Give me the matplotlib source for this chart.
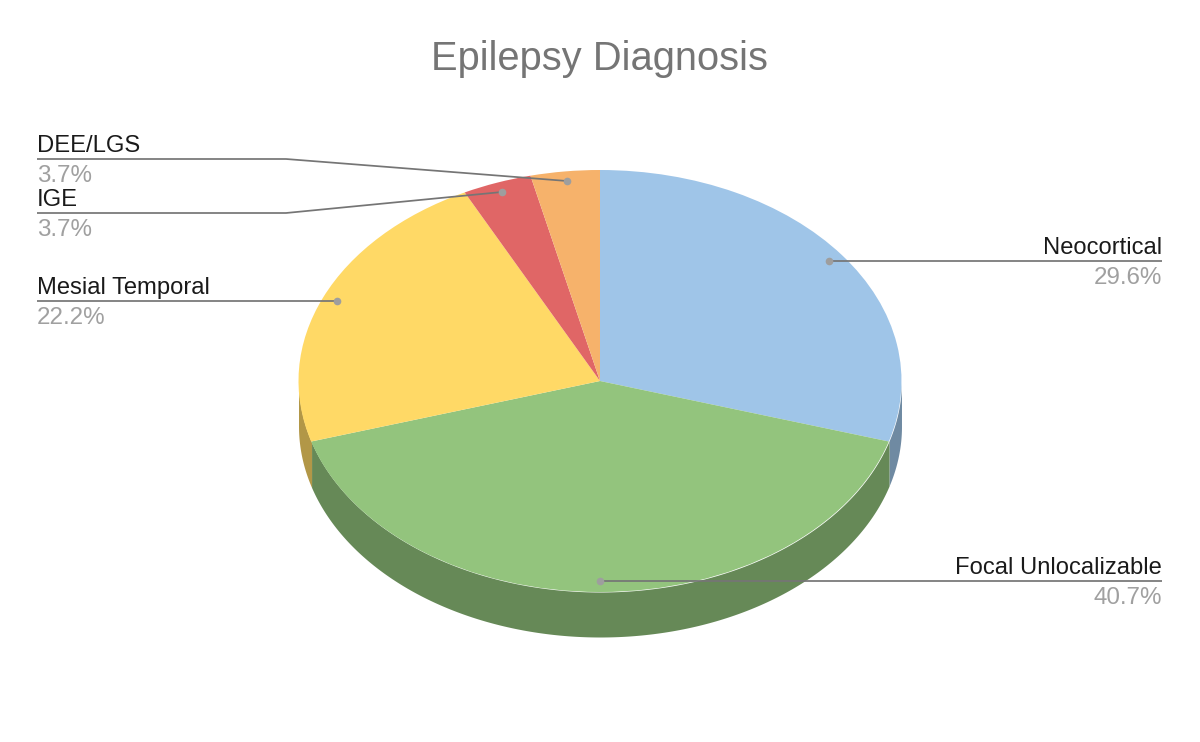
import numpy as np
import matplotlib
matplotlib.use('Agg')
import matplotlib.pyplot as plt

plt.rcParams['font.family'] = ['Liberation Sans', 'DejaVu Sans']

names = ['Neocortical', 'Focal Unlocalizable', 'Mesial Temporal', 'IGE', 'DEE/LGS']
values = [29.6, 40.7, 22.2, 3.7, 3.7]
pct_labels = ['29.6%', '40.7%', '22.2%', '3.7%', '3.7%']
top_colors = ['#9fc5e8', '#93c47d', '#ffd966', '#e06666', '#f6b26b']
side_colors = ['#6f8aa2', '#668957', '#b29747', '#9c4747', '#ac7c4a']

W, H = 1200, 742
CX, CY, RX, RY, DEPTH = 600, 381, 301.5, 211, 45

fig = plt.figure(figsize=(12, 7.42), dpi=100)
ax = fig.add_axes([0, 0, 1, 1])


def px(x, y):
    # picture pixels -> data units of the pie
    return (x - CX) / RX, (CY - y) / RY


# side of the cake, lower half only
d = DEPTH / RY
angle = 90.0
for v, c in zip(values, side_colors):
    a0 = angle - v * 3.6
    a1 = angle
    angle = a0
    t = np.radians(np.linspace(a0, a1, 200))
    t = t[np.sin(t) <= 0]
    if len(t) < 2:
        continue
    ax.fill_between(np.cos(t), np.sin(t) - d, np.sin(t), color=c, lw=0, zorder=1)

ax.pie(values, colors=top_colors, startangle=90, counterclock=False, radius=1,
       wedgeprops={'linewidth': 0})
for w in ax.patches:
    w.set_zorder(2)

ax.set_aspect('auto')
ax.set_xlim(-CX / RX, (W - CX) / RX)
ax.set_ylim((CY - H) / RY, CY / RY)
ax.axis('off')

# leader lines: label index, line points in pixels, text x, align
leaders = [
    (0, [(1162, 261), (829, 261)], 1162, 'right'),
    (1, [(1162, 581), (600, 581)], 1162, 'right'),
    (2, [(37, 301), (337, 301)], 37, 'left'),
    (3, [(37, 213), (286, 213), (502, 192)], 37, 'left'),
    (4, [(37, 159), (286, 159), (567, 181)], 37, 'left'),
]
for i, pts, tx, ha in leaders:
    xy = [px(*p) for p in pts]
    ax.plot([p[0] for p in xy], [p[1] for p in xy], color='#757575', lw=1.25, zorder=3,
            solid_capstyle='butt')
    ax.plot(xy[-1][0], xy[-1][1], 'o', color='#9e9e9e', ms=5.5, mew=0, zorder=4)
    ly = pts[0][1]
    ax.text(*px(tx, ly - 7), names[i], ha=ha, va='baseline', fontsize=17.1, color='#1a1a1a', zorder=5)
    ax.text(*px(tx, ly + 23), pct_labels[i], ha=ha, va='baseline', fontsize=17.4, color='#a0a0a0', zorder=5)

ax.text(*px(600, 70), 'Epilepsy Diagnosis', ha='center', va='baseline', fontsize=28.7, color='#757575')

fig.savefig('out.png', dpi=100, facecolor='white')
